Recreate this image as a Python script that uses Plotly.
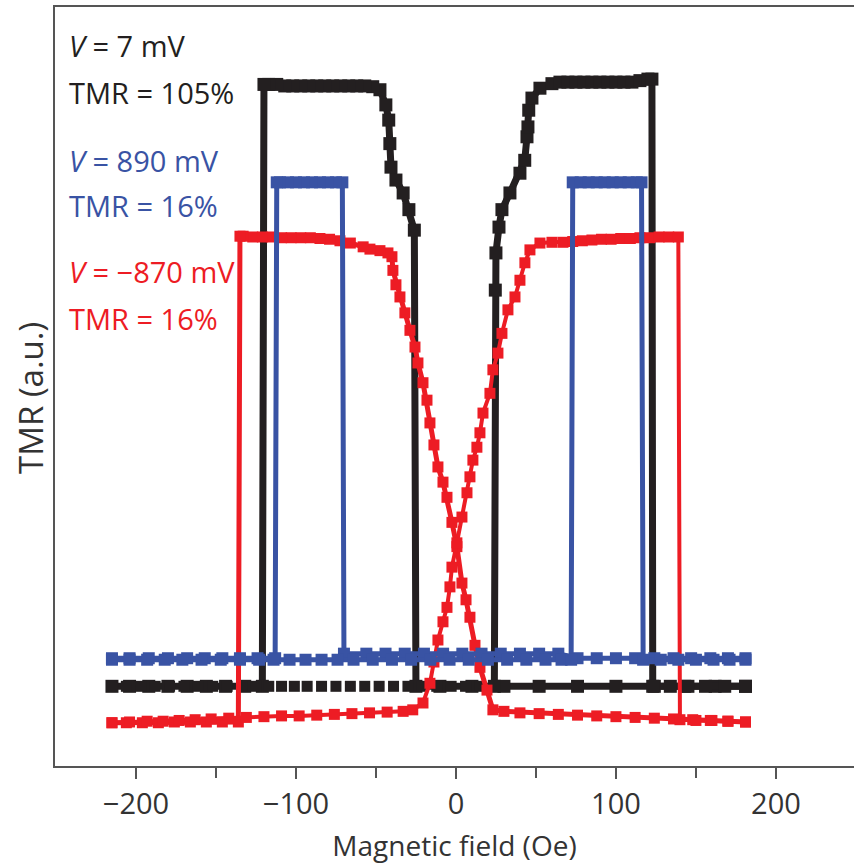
import plotly.graph_objects as go

# ---------------- data (x: magnetic field in Oe, y: TMR in a.u.) ----------------
black_down_x = [181, 162, 143, 124, 100, 76, 52, 30, 10, -10, -25,
                -26, -29.4, -33, -37.5, -40.6, -41.3, -42, -43.8, -47.5, -52, -57,
                -62, -67, -72, -77, -82, -87, -92, -97, -102, -107, -112, -117, -120,
                -121, -132, -144, -156, -168, -180, -192, -204, -215]
black_down_y = [10.5, 10.5, 10.5, 10.5, 10.5, 10.5, 10.5, 10.5, 10.5, 10.5, 10.5,
                70.6, 73.3, 75.5, 77.2, 78.9, 82.0, 85.1, 87.1, 89.1, 89.5, 89.6,
                89.6, 89.6, 89.6, 89.6, 89.6, 89.6, 89.6, 89.6, 89.6, 89.6, 89.8, 89.8, 89.8,
                10.5, 10.5, 10.5, 10.5, 10.5, 10.5, 10.5, 10.5, 10.5]

black_up_low_x = [-215, -206, -197, -188, -179, -170, -161, -152, -143, -134, -125, -117, -109, -101,
                  -93, -84, -75, -66, -57, -48, -39, -30, -21, -12, -3, 6, 15, 24]
black_up_low_y = [10.5, 10.5, 10.5, 10.5, 10.5, 10.5, 10.5, 10.5, 10.5, 10.5, 10.5, 10.5, 10.5, 10.5,
                  10.5, 10.5, 10.5, 10.5, 10.5, 10.5, 10.5, 10.5, 10.5, 10.5, 10.5, 10.5, 10.5, 10.5]

black_up_x = [24, 24.6, 25, 26.9, 28.75, 33.75, 40, 43, 44.4, 45, 45.5, 47.5, 52.5, 60, 65, 70, 75,
              80, 85, 90, 95, 100, 105, 110, 115, 120, 122.5, 123, 134, 145, 156, 168, 181]
black_up_y = [10.5, 62.7, 67.6, 71.0, 73.3, 75.5, 78.1, 79.8, 82.9, 84.2, 86.4, 88.0, 89.3, 89.9, 90.1, 90.1, 90.1,
              90.1, 90.1, 90.1, 90.1, 90.1, 90.1, 90.1, 90.3, 90.5, 90.5, 10.5, 10.5, 10.5, 10.5, 10.5, 10.5]

blue_down_x = [181, 170, 159, 147, 136, 124, 112, 100, 88, 76, 64, 52, 40, 28, 16, 4, -8, -20, -32, -44, -56, -70,
               -71, -75, -80, -85, -90, -95, -100, -105, -110, -112,
               -113, -124, -135, -146, -157, -168, -180, -192, -204, -215]
blue_down_y = [14.2, 14.2, 14.2, 14.2, 14.2, 14.2, 14.2, 14.2, 14.2, 14.2, 14.8, 14.8, 14.8, 14.8, 14.8, 14.8,
               14.8, 14.8, 14.8, 14.8, 14.8, 14.8,
               76.9, 76.9, 76.9, 76.9, 76.9, 76.9, 76.9, 76.9, 76.9, 76.9,
               14.2, 14.2, 14.2, 14.2, 14.2, 14.2, 14.2, 14.2, 14.2, 14.2]

blue_up_x = [-215, -204, -193, -182, -171, -159, -147, -135, -123, -114, -104, -94, -84, -74, -64, -52, -40,
             -28, -16, -4, 8, 20, 32, 44, 56, 66, 72,
             73, 78, 83, 88, 93, 98, 103, 108, 113, 116,
             117, 128, 139, 150, 161, 171, 181]
blue_up_y = [14.0, 14.0, 14.0, 14.0, 14.0, 14.0, 14.0, 14.0, 14.0, 14.0, 14.0, 14.0, 14.0, 14.0, 14.0, 14.0, 14.0,
             14.0, 14.0, 14.0, 14.0, 14.0, 14.0, 14.0, 14.0, 14.0, 14.0,
             76.9, 76.9, 76.9, 76.9, 76.9, 76.9, 76.9, 76.9, 76.9, 76.9,
             14.0, 14.0, 14.0, 14.0, 14.0, 14.0, 14.0]

red_down_x = [181, 170, 159, 148, 136, 124, 112, 100, 88, 76, 64, 52, 40, 30,
              23.1, 19.4, 15, 11.9, 8.75, 6.3, 3.75, 0.6, -2.5, -5.6, -8.1, -11.25, -13.75, -16.25, -18.1,
              -20.6, -23.75, -25.6, -28.75, -31.9, -35, -37.5, -39.4, -40, -42.5, -47.5, -53.75, -58, -66,
              -72.5, -79,
              -85, -91, -97, -103, -109, -115, -121, -127, -133, -135,
              -136, -146, -156, -166, -176, -186, -196, -206, -215]
red_down_y = [5.8, 5.9, 6.0, 6.1, 6.2, 6.3, 6.4, 6.5, 6.6, 6.7, 6.8, 6.9, 7.0, 7.2,
              7.4, 10.0, 13.0, 15.9, 19.6, 21.9, 24.1, 28.9, 32.1, 35.4, 37.4, 39.4, 42.3, 45.2, 48.2,
              50.5, 53.1, 55.2, 57.4, 59.7, 61.8, 63.4, 65.3, 67.1, 67.6, 67.9, 68.1, 68.4, 68.9,
              69.2, 69.4,
              69.5, 69.6, 69.6, 69.6, 69.6, 69.7, 69.7, 69.7, 69.8, 69.8,
              5.8, 5.8, 5.8, 5.8, 5.8, 5.7, 5.7, 5.7, 5.7]

red_up_x = [-215, -204, -193, -183, -173, -163, -153, -142, -131, -120, -109, -98, -87, -76, -65, -54, -43,
            -33, -27,
            -20.6, -16.25, -13.75, -11.25, -8.1, -5.6, -3.75, -2.5, 0.6, 3.75, 6.9, 8.75, 10.6, 13.1, 15,
            16.9, 21.25, 23.1, 26.25, 28.75, 32.5, 36.9, 40, 43.1, 46.25, 52.5, 60, 66.9,
            73, 79, 85, 91, 97, 103, 109, 115, 121, 127, 133, 139,
            140, 150, 160, 170, 181]
red_up_y = [5.7, 5.8, 5.9, 5.9, 6.0, 6.1, 6.2, 6.3, 6.4, 6.5, 6.6, 6.6, 6.7, 6.8, 6.9, 7.0, 7.1,
            7.2, 7.4,
            8.3, 10.9, 13.7, 16.6, 19.0, 20.9, 23.6, 26.2, 29.4, 32.8, 36.0, 38.1, 40.3, 42.0, 43.9,
            46.5, 49.1, 52.2, 54.4, 57.0, 60.1, 61.8, 64.0, 66.3, 68.0, 68.9, 69.0, 69.0,
            69.1, 69.2, 69.3, 69.4, 69.4, 69.5, 69.5, 69.6, 69.6, 69.7, 69.7, 69.7,
            6.1, 6.0, 6.0, 5.9, 5.8]

labels = [
    ("<i>V</i> = 7 mV", "TMR = 105%", "#231f20"),
    ("<i>V</i> = 890 mV", "TMR = 16%", "#3953a4"),
    ("<i>V</i> = \u2212870 mV", "TMR = 16%", "#ed1c24"),
]
label_y = [(94.9, 88.8), (79.8, 73.8), (65.1, 59.0)]

BLACK, BLUE, RED = "#231f20", "#3953a4", "#ed1c24"
FONT = "Open Sans, Noto Sans, sans-serif"

fig = go.Figure()

def add(x, y, color, lw, ms, mode="lines+markers"):
    fig.add_trace(go.Scatter(
        x=x, y=y, mode=mode, showlegend=False, hoverinfo="skip",
        line=dict(color=color, width=lw),
        marker=dict(symbol="square", size=ms, color=color, line=dict(width=0)),
    ))

add(black_down_x, black_down_y, BLACK, 7, 13)
add(black_up_low_x, black_up_low_y, BLACK, 7, 11, mode="markers")
add(black_up_x, black_up_y, BLACK, 7, 13)
add(red_down_x, red_down_y, RED, 5, 11)
add(red_up_x, red_up_y, RED, 4, 11)
add(blue_down_x, blue_down_y, BLUE, 5, 12)
add(blue_up_x, blue_up_y, BLUE, 5, 12)

for (l1, l2, c), (y1, y2) in zip(labels, label_y):
    for txt, yy in ((l1, y1), (l2, y2)):
        fig.add_annotation(x=-243, y=yy, xref="x", yref="y", text=txt, showarrow=False,
                           xanchor="left", yanchor="middle",
                           font=dict(family=FONT, size=29, color=c))

fig.update_layout(
    width=854, height=864,
    margin=dict(l=55, r=0, t=7, b=98),
    paper_bgcolor="white", plot_bgcolor="white",
    font=dict(family=FONT, color="#333333"),
    xaxis=dict(
        range=[-250.6, 248.8], showgrid=False, zeroline=False,
        showline=True, linecolor="#555555", linewidth=1.5, mirror=True,
        tickmode="array", tickvals=[-200, -100, 0, 100, 200],
        ticktext=["\u2212200", "\u2212100", "0", "100", "200"],
        ticks="outside", ticklen=11, tickwidth=1.5, tickcolor="#555555",
        minor=dict(tickvals=[-150, -50, 50, 150], ticks="outside", ticklen=10,
                   tickwidth=1.5, tickcolor="#555555"),
        tickfont=dict(family=FONT, size=29, color="#333333"),
        title=dict(text="Magnetic field (Oe)", font=dict(family=FONT, size=28, color="#333333"),
                   standoff=16),
    ),
    yaxis=dict(
        range=[0, 100], showgrid=False, zeroline=False, showticklabels=False,
        showline=True, linecolor="#555555", linewidth=1.5, ticks="",
    ),
)

fig.add_annotation(x=-0.03, y=0.485, xref="paper", yref="paper", text="TMR (a.u.)",
                   textangle=-90, showarrow=False, xanchor="center", yanchor="middle",
                   font=dict(family=FONT, size=33, color="#333333"))

fig.write_html("out.html")
